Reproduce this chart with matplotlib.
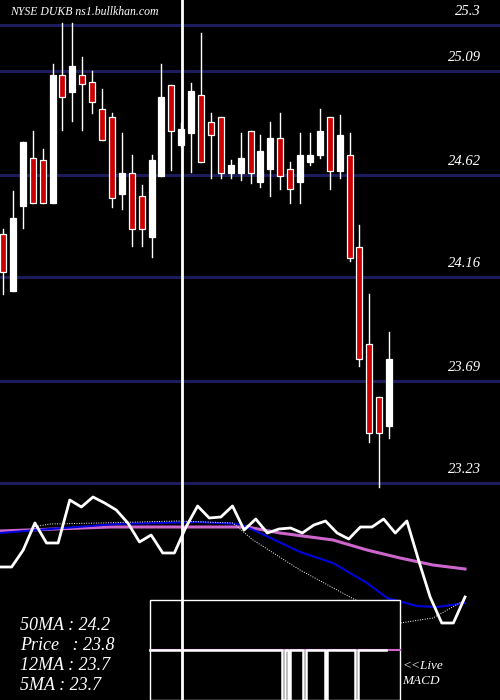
import matplotlib
matplotlib.use("Agg")
import matplotlib.pyplot as plt
from matplotlib.patches import Rectangle

# candles: open, high, low, close
opens  = [24.352,24.098,24.482,24.695,24.686,24.492,25.070,24.997,25.070,25.039,24.917,24.881,24.533,24.628,24.524,24.341,24.614,25.028,24.754,24.808,24.980,24.858,24.881,24.628,24.628,24.817,24.587,24.646,24.786,24.646,24.587,24.677,24.709,24.881,24.637,24.709,24.293,23.855,23.616,23.486]
highs  = [24.375,24.548,24.768,24.819,24.738,25.122,25.305,25.305,25.152,25.090,25.009,24.899,24.808,24.709,24.573,24.709,25.122,25.028,24.854,25.034,25.262,24.899,24.881,24.686,24.808,24.817,24.799,24.858,24.899,24.677,24.808,24.808,24.917,24.881,24.890,24.808,24.393,24.081,23.616,23.909]
lows   = [24.081,24.098,24.382,24.492,24.492,24.492,24.823,24.866,24.823,24.899,24.777,24.474,24.465,24.301,24.301,24.251,24.614,24.644,24.748,24.635,24.677,24.605,24.605,24.605,24.596,24.585,24.564,24.524,24.555,24.492,24.492,24.664,24.695,24.555,24.605,24.232,23.757,23.412,23.209,23.430]
closes = [24.180,24.424,24.768,24.492,24.492,25.070,24.971,25.111,25.030,24.948,24.777,24.515,24.628,24.375,24.375,24.686,24.971,24.817,24.826,24.998,24.677,24.799,24.628,24.664,24.695,24.628,24.727,24.786,24.614,24.555,24.709,24.709,24.817,24.637,24.799,24.245,23.789,23.455,23.455,23.789]
price_levels = [25.3, 25.09, 24.62, 24.16, 23.69, 23.23]
price_labels = ["25.3", "25.09", "24.62", "24.16", "23.69", "23.23"]

# indicator lines (lower panel, arbitrary scale)
white_ind = [133,133,150,177,157,157,200,193,203,197,190,177,158,165,147,147,173,194,182,183,194,170,181,167,171,172,167,175,179,167,161,173,173,181,167,179,140,103,77,77,103]
pink_x = [0,110,247,280,333,367,400,433,465]
pink_v = [169,173,173,167,160,150,142,135,131]
blue_x = [0,50,117,197,240,260,300,333,367,387,417,437,465]
blue_v = [167,171,176,178,176,167,148,137,117,102,94,93,97]
dot_x = [33,50,100,177,233,253,300,350,400,433,465]
dot_v = [173,176,177,179,177,160,130,103,77,82,100]
macd_x = [150,282,282,285,285,288,288,290,290,303,303,306,306,325,325,327,327,355,355,358,358,386]
macd_v = [50,50,0,0,50,50,0,0,50,50,0,0,50,50,0,0,50,50,0,0,50,50]

info = ["50MA : 24.2", "Price   : 23.8", "12MA : 23.7", "5MA : 23.7"]
SERIF = ["Liberation Serif", "DejaVu Serif"]

fig = plt.figure(figsize=(5, 7), dpi=100, facecolor="black")
ax1 = fig.add_axes([0, 210/700, 1, 490/700])
ax2 = fig.add_axes([0, 0, 1, 210/700])
for ax in (ax1, ax2):
    ax.set_facecolor("black")
    ax.set_axis_off()
    ax.set_xlim(0, 500)
ax1.set_ylim(23.197, 25.411)
ax2.set_ylim(0, 210)

for lv, lb in zip(price_levels, price_labels):
    ax1.axhline(lv, color="#1c1c5c", lw=2.2, zorder=1)
    ax1.text(481, lv + 0.03, lb, color="white", fontsize=10.5, family=SERIF,
             style="italic", ha="right", va="bottom")

for i, (o, h, l, c) in enumerate(zip(opens, highs, lows, closes)):
    x = 3 + 9.9 * i
    ax1.plot([x, x], [l, h], color="white", lw=1, zorder=2)
    col = "#cc0000" if c < o else "white"
    ax1.add_patch(Rectangle((x - 3, min(o, c)), 6, max(abs(c - o), 0.004),
                            facecolor=col, edgecolor="white", lw=0.9, zorder=3))

ax1.axvline(182, color="white", lw=2, zorder=4)
ax2.axvline(182, color="white", lw=2, zorder=6)

wx = [i * 465 / 40 for i in range(len(white_ind))]
ax2.plot(pink_x, pink_v, color="#cc66cc", lw=2.2, zorder=2)
ax2.plot(blue_x, blue_v, color="#0000dd", lw=1.5, zorder=3)
ax2.plot(dot_x, dot_v, color="white", lw=0.7, ls=(0, (1, 1.5)), zorder=3)
ax2.plot(wx, white_ind, color="white", lw=2, zorder=4)

ax2.add_patch(Rectangle((150, 0), 250, 100, facecolor="black", edgecolor="white", lw=1, zorder=5))
ax2.plot([150, 400], [50, 50], color="#cc66cc", lw=1.5, zorder=5)
ax2.plot(macd_x, macd_v, color="white", lw=1.8, zorder=5)

fig.text(10/500, 1 - 12/700, "NYSE DUKB ns1.bullkhan.com", color="white", fontsize=8.5,
         family=SERIF, style="italic", va="center")
for k, t in enumerate(info):
    fig.text(20/500, 1 - (625 + 20 * k)/700, t, color="white", fontsize=13,
             family=SERIF, style="italic", va="center")
fig.text(402/500, 1 - 666/700, "<<Live", color="white", fontsize=9.5, family=SERIF, style="italic", va="center")
fig.text(402/500, 1 - 681/700, "MACD", color="white", fontsize=9.5, family=SERIF, style="italic", va="center")

fig.savefig("out.png", facecolor="black")
